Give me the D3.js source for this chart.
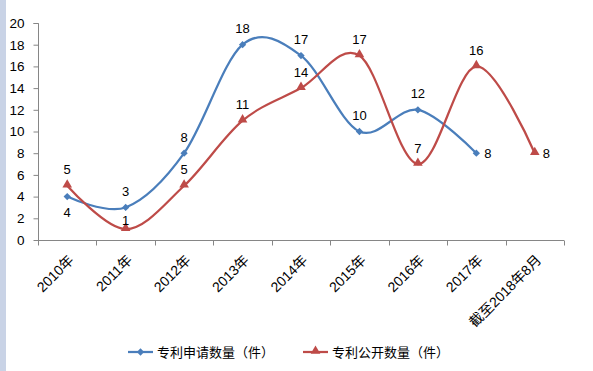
<!DOCTYPE html>
<html><head><meta charset="utf-8">
<script src="https://cdn.jsdelivr.net/npm/d3@7"></script>
<style>body{margin:0;background:#fff}svg{display:block}text{font-family:"Liberation Sans","Noto Sans CJK SC",sans-serif}</style>
</head><body>
<svg id="c" width="593" height="371"></svg>
<script>
const categories = ["2010年","2011年","2012年","2013年","2014年","2015年","2016年","2017年","截至2018年8月"];
const applied = [4,3,8,18,17,10,12,8,null];
const published = [5,1,5,11,14,17,7,16,8];
const seriesNames = ["专利申请数量（件）","专利公开数量（件）"];
const yTicks = [0,2,4,6,8,10,12,14,16,18,20];

// label placement (style, not data)
const appliedLabelPos = ["below","above","above","above","above","above","above","right",null];
const publishedLabelPos = ["above","near","above","above","above","above","above","above","right"];

const svg = d3.select("#c");
svg.append("rect").attr("x",0).attr("y",0).attr("width",6).attr("height",371).attr("fill","#c9d3e6");

const x = d3.scaleBand().domain(categories).range([38,564]);
const y = d3.scaleLinear().domain([0,20]).range([240,23]);
const cx = d => x(d) + x.bandwidth()/2;

// y axis
const ya = svg.append("g").attr("transform","translate(38.5,0)")
  .call(d3.axisLeft(y).tickValues(yTicks).tickSize(5).tickPadding(9));
ya.select(".domain").attr("stroke","#868686").attr("d","M-5,23.5H0V240.5");
ya.selectAll(".tick line").attr("stroke","#868686");
ya.selectAll(".tick text").attr("font-size",13.5).attr("fill","#000");

// x axis
const xa = svg.append("g").attr("transform","translate(0,240.5)");
xa.append("line").attr("x1",38).attr("x2",564).attr("stroke","#868686");
const bounds = categories.map(c=>x(c)).concat([564]);
xa.selectAll(".bt").data(bounds).join("line").attr("x1",d=>Math.round(d)+0.5).attr("x2",d=>Math.round(d)+0.5)
  .attr("y1",0).attr("y2",5).attr("stroke","#868686");
xa.selectAll(".xl").data(categories).join("text")
  .attr("transform",d=>`translate(${cx(d)+4},${17}) rotate(-45)`)
  .attr("text-anchor","end").attr("dy","0.35em").attr("font-size",14).attr("fill","#000").text(d=>d);

const line = d3.line().x(d=>cx(d.c)).y(d=>y(d.v)).curve(d3.curveCatmullRom.alpha(0));
const aData = categories.map((c,i)=>({c,v:applied[i],p:appliedLabelPos[i]})).filter(d=>d.v!=null);
const pData = categories.map((c,i)=>({c,v:published[i],p:publishedLabelPos[i]})).filter(d=>d.v!=null);

const blue="#4a7ebb", red="#be4b48";
svg.append("path").datum(aData).attr("d",line).attr("fill","none").attr("stroke",blue).attr("stroke-width",2.25);
svg.append("path").datum(pData).attr("d",line).attr("fill","none").attr("stroke",red).attr("stroke-width",2.25);

const diamond = d3.symbol().type(d3.symbolDiamond2).size(34);
const tri = d3.symbol().type(d3.symbolTriangle).size(40);
svg.selectAll(".ma").data(aData).join("path")
  .attr("transform",d=>`translate(${cx(d.c)},${y(d.v)})`).attr("d",diamond).attr("fill",blue);
svg.selectAll(".mp").data(pData).join("path")
  .attr("transform",d=>`translate(${cx(d.c)},${y(d.v)-1})`).attr("d",tri).attr("fill",red);

const offY = {above:-16, below:16, near:-9, right:0};
function labels(data){
  svg.selectAll(null).data(data).join("text")
    .attr("x",d=>d.p==="right"?cx(d.c)+8:cx(d.c))
    .attr("y",d=>y(d.v)+offY[d.p])
    .attr("dy","0.35em").attr("text-anchor",d=>d.p==="right"?"start":"middle")
    .attr("font-size",13).attr("fill","#000").text(d=>d.v);
}
labels(aData); labels(pData);

// legend
const lg = svg.append("g").attr("transform","translate(0,352)");
lg.append("line").attr("x1",128).attr("x2",153).attr("stroke",blue).attr("stroke-width",2.25);
lg.append("path").attr("transform","translate(140.5,0)").attr("d",diamond).attr("fill",blue);
lg.append("text").attr("x",157).attr("dy","0.35em").attr("font-size",13).text(seriesNames[0]);
lg.append("line").attr("x1",303).attr("x2",328).attr("stroke",red).attr("stroke-width",2.25);
lg.append("path").attr("transform","translate(315.5,-1)").attr("d",tri).attr("fill",red);
lg.append("text").attr("x",332).attr("dy","0.35em").attr("font-size",13).text(seriesNames[1]);
</script>
</body></html>
